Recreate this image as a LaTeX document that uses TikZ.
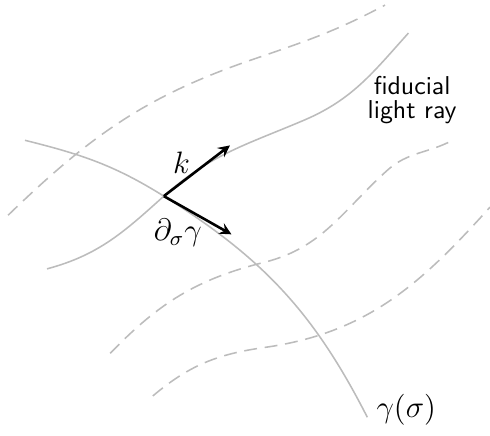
\documentclass[tikz,border=0pt]{standalone}
\definecolor{raygray}{RGB}{188,188,188}
\tikzset{
  diagram ray/.style={semithick,draw=raygray},
  diagram neighbour/.style={semithick,draw=raygray,dash pattern=on 5pt off 3pt},
  diagram vector/.style={->,>=stealth,line width=1pt,draw=black},
  diagram label/.style={font=\large},
  diagram note/.style={font=\sffamily\fontsize{10}{9.3}\selectfont,align=center}
}

\begin{document}
\begin{tikzpicture}[x=1cm,y=1cm]
    \useasboundingbox (0,0) rectangle (6.67,5.93);
    \coordinate (P) at (2.23,3.26);
    \coordinate (ktip) at (3.13,3.95);
    \coordinate (dtip) at (3.15,2.74);
    \coordinate (curveend) at (5.00,0.25);
    % neighbouring rays
    \draw[diagram neighbour] (0.11,3.00) to[out=44,in=199] (3.41,5.11)
      to[out=19,in=208] (5.24,5.86);
    \draw[diagram neighbour] (1.50,1.12) to[out=46,in=194] (3.60,2.36)
      to[out=14,in=222] (5.27,3.61) to[out=42,in=208] (6.16,4.02);
    \draw[diagram neighbour] (2.08,0.54) to[out=40,in=188] (3.60,1.20)
      to[out=8,in=228] (6.67,3.11);
    % fiducial ray and the curve gamma
    \draw[diagram ray] (0.64,2.27) to[out=15,in=222] (P)
      to[out=42,in=203] (4.13,4.29) to[out=23,in=228] (5.56,5.48);
    \draw[diagram ray] (0.34,4.02) to[out=-14,in=148] (P)
      to[out=-32,in=117] (curveend);
    % tangent vectors
    \draw[diagram vector] (P)--(ktip);
    \draw[diagram vector] (P)--(dtip);
    \node[diagram label] (klabel) at (2.47,3.72) {$k$};
    \node[diagram label] (dlabel) at (2.42,2.76) {$\partial_\sigma\gamma$};
    \node[diagram label] (gammalabel) at (5.53,0.35) {$\gamma(\sigma)$};
    \node[diagram note] (raynote) at (5.61,4.57) {fiducial\\light ray};
\end{tikzpicture}
\end{document}
